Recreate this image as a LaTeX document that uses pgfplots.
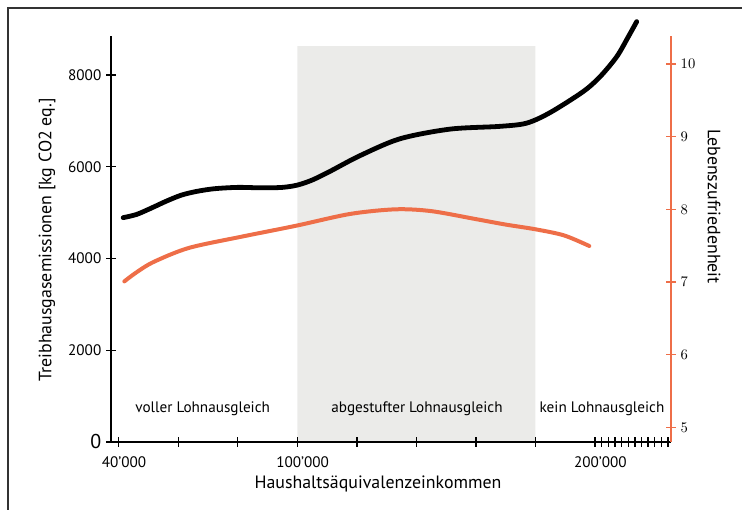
\documentclass[border=0pt]{standalone}
\usepackage{fontspec}
\setmainfont{PT Sans}
\usepackage{pgfplots}
\pgfplotsset{compat=1.18}
\definecolor{lineorange}{HTML}{EE6E48}
\definecolor{shade}{HTML}{EBEBE9}
\begin{document}
\begin{tikzpicture}[x=0.75pt,y=0.75pt]
\useasboundingbox (0,0) rectangle (742,510);
\draw[line width=0.8pt, black!80] (8,0) -- (8,502) -- (742,502);

\begin{axis}[
  at={(83.25pt,51pt)}, anchor=south west,
  width=420pt, height=304.5pt, scale only axis,
  xmin=37413, xmax=225529, ymin=0, ymax=8850,
  axis x line*=bottom, axis y line*=left,
  axis line style={line width=1.4pt, -},
  tick align=center, major tick length=7.5pt,
  tick style={line width=1pt, black},
  scaled x ticks=false,
  xtick={40000,60000,80000,100000,120000,140000,160000,180000,200000},
  xticklabels={40’000,,,100’000,,,,,200’000},
  xticklabel style={yshift=-4pt, xshift=4pt},
  extra x ticks={202230,204460,206690,208920,211150,213380,215610,217840,220070,222300,224530},
  extra x tick labels={},
  extra x tick style={tick style={line width=1pt, black}},
  ytick={0,2000,4000,6000,8000},
  yticklabels={{\fontsize{15}{15}\selectfont 0},2000,4000,6000,8000},
  ticklabel style={font=\fontsize{11.4}{13}\selectfont},
  clip=false, axis on top,
]
\addplot[fill=shade, draw=none] coordinates {(100000,0) (100000,8630) (180000,8630) (180000,0)} \closedcycle;
\addplot[line width=3.6pt, black, smooth, line cap=round] coordinates {
(41500,4890) (46000,4960) (51000,5100) (56000,5250) (61000,5380) (66000,5460)
(72000,5520) (80000,5550) (88000,5540) (95000,5550) (100000,5600) (105000,5710)
(111000,5900) (121000,6240) (134500,6610) (151300,6820) (168000,6880)
(177000,6950) (184900,7180) (196000,7637) (201700,7963)
(207300,8399) (211200,8835) (214000,9163)};
\node[font=\fontsize{11.4}{13}\selectfont] at (axis cs:68215,720) {voller Lohnausgleich};
\node[font=\fontsize{11.4}{13}\selectfont] at (axis cs:140200,720) {abgestufter Lohnausgleich};
\node[font=\fontsize{11.4}{13}\selectfont] at (axis cs:202340,720) {kein Lohnausgleich};
\end{axis}

\begin{axis}[
  at={(83.25pt,51pt)}, anchor=south west,
  width=420pt, height=304.5pt, scale only axis,
  xmin=37413, xmax=225529, ymin=4.798, ymax=10.385,
  axis x line=none, axis y line*=right,
  axis line style={line width=1.4pt, lineorange, -},
  tick align=center, major tick length=7.5pt,
  tick style={line width=1pt, lineorange},
  ytick={5,6,7,8,9,10},
  yticklabel style={black, font=\fontsize{11.4}{13}\selectfont},
  clip=false,
]
\addplot[line width=3pt, lineorange, smooth, line cap=round] coordinates {
(41900,7.008) (45700,7.125) (51700,7.275) (63600,7.469) (81700,7.627) (99700,7.775)
(117700,7.936) (133000,8.000) (145000,7.975) (160000,7.865) (170000,7.79)
(180000,7.725) (189600,7.641) (198100,7.495)};
\end{axis}

\node[font=\fontsize{13.4}{15}\selectfont] at (378,26) {Haushaltsäquivalenzeinkommen};
\node[font=\fontsize{13.4}{15}\selectfont, rotate=90] at (47,270) {Treibhausgasemissionen [kg CO2 eq.]};
\node[font=\fontsize{13.4}{15}\selectfont, rotate=-90] at (714,303.5) {Lebenszufriedenheit};
\end{tikzpicture}
\end{document}
